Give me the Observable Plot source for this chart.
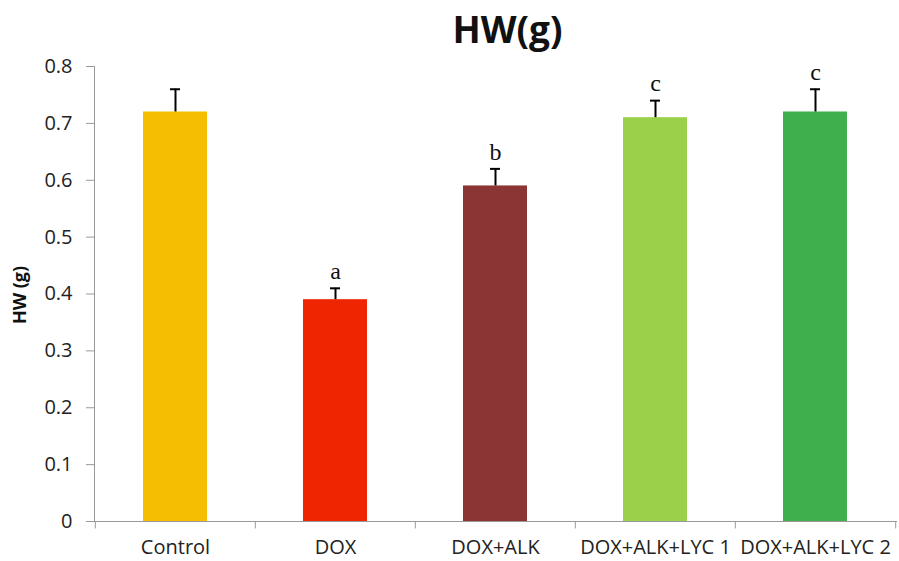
<!DOCTYPE html>
<html>
<head>
<meta charset="utf-8">
<script src="https://cdn.jsdelivr.net/npm/d3@7"></script>
<script src="https://cdn.jsdelivr.net/npm/@observablehq/plot@0.6"></script>
<style>
  html, body { margin: 0; padding: 0; background: #fff; }
  #chart g[aria-label="y-axis tick label"] { font-size: 20px; }
</style>
</head>
<body>
<div id="chart"></div>
<script>
const categories = ["Control", "DOX", "DOX+ALK", "DOX+ALK+LYC 1", "DOX+ALK+LYC 2"];
const values = [0.72, 0.39, 0.59, 0.71, 0.72];
const errors = [0.04, 0.02, 0.03, 0.03, 0.04];
const letters = ["", "a", "b", "c", "c"];
const colors = ["#F5BE00", "#EE2500", "#8B3535", "#9BD04B", "#3FAE4D"];
const yTicks = [0, 0.1, 0.2, 0.3, 0.4, 0.5, 0.6, 0.7, 0.8];

const data = categories.map((c, i) => ({cat: c, v: values[i], e: errors[i], top: values[i] + errors[i], letter: letters[i]}));

const W = 899, H = 561, mL = 94, mR = 3, mT = 66, mB = 40;
const step = (W - mL - mR) / categories.length;

const chart = Plot.plot({
  width: W,
  height: H,
  marginLeft: mL,
  marginRight: mR,
  marginTop: mT,
  marginBottom: mB,
  style: {fontFamily: "'Open Sans', sans-serif", fontSize: "20px", color: "#222", background: "#fff"},
  x: {domain: categories, paddingInner: 0.6, paddingOuter: 0.3, axis: null},
  y: {domain: [0, 0.8], axis: null},
  color: {domain: categories, range: colors},
  marks: [
    Plot.barY(data, {x: "cat", y: "v", fill: "cat"}),
    Plot.ruleX(data, {x: "cat", y1: "v", y2: "top", stroke: "#000", strokeWidth: 2}),
    Plot.tickY(data, {x: "cat", y: "top", stroke: "#000", strokeWidth: 2, insetLeft: 27, insetRight: 27}),
    Plot.text(data, {x: "cat", y: "top", text: "letter", dy: -17, fontFamily: "'Liberation Serif', serif", fontSize: 24, fill: "#111"}),
    Plot.frame({anchor: "left", stroke: "#999"}),
    Plot.frame({anchor: "bottom", stroke: "#999"}),
    Plot.axisY({ticks: yTicks, tickFormat: d => String(+d.toFixed(1)), tickSize: 8, tickPadding: 14, stroke: "#999", fill: "#222", fontSize: 20, label: null}),
    Plot.ruleX(categories, {x: d => d, y1: 0, y2: -0.013, dx: -step / 2, stroke: "#999"}),
    Plot.ruleX([categories[categories.length - 1]], {x: d => d, y1: 0, y2: -0.013, dx: step / 2, stroke: "#999"}),
    Plot.text(categories, {x: d => d, y: 0, text: d => d, dy: 26, fontSize: 20, fill: "#222"}),
    Plot.text(["HW (g)"], {frameAnchor: "left", textAnchor: "middle", text: d => d, rotate: -90, dx: -74, dy: 1, fontWeight: "bold", fontSize: 18, fill: "#111"}),
    Plot.text(["HW(g)"], {frameAnchor: "top", text: d => d, dy: -50, dx: 12, fontWeight: "bold", fontSize: 37, fill: "#111"})
  ]
});
document.getElementById("chart").appendChild(chart);
</script>
</body>
</html>
